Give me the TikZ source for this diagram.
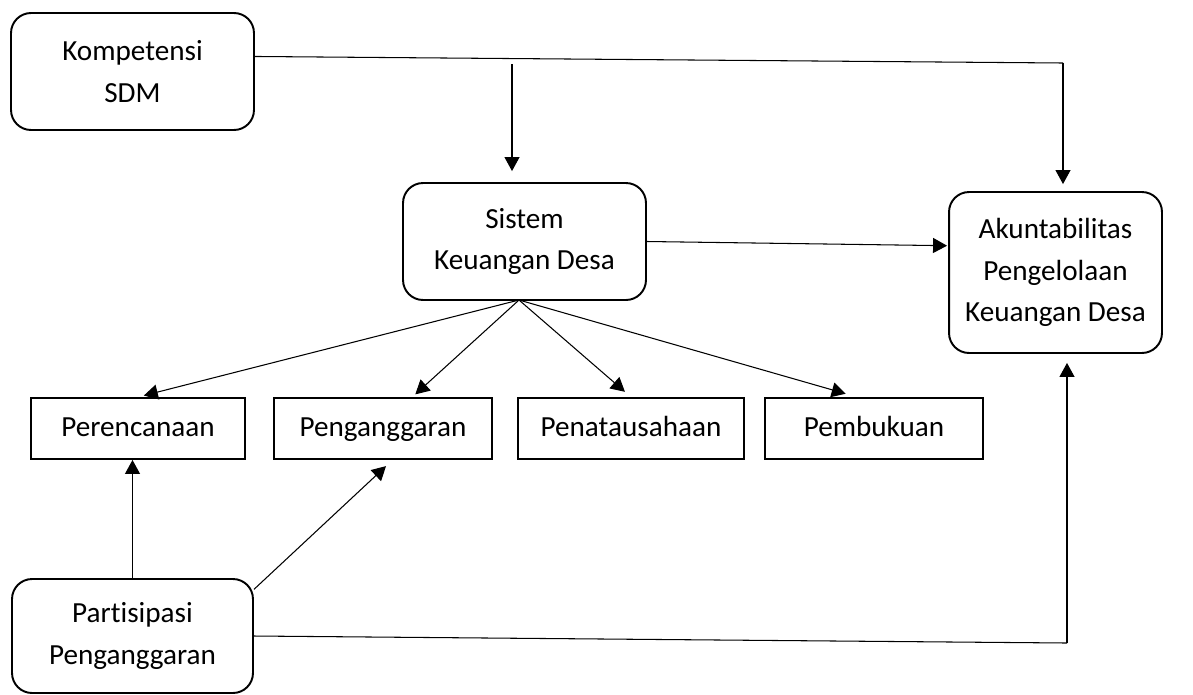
\documentclass[tikz,border=0pt]{standalone}
\usepackage{fontspec}
\setmainfont{Carlito}[Ligatures=NoCommon]
\usetikzlibrary{arrows.meta}
\begin{document}
\begin{tikzpicture}[x=0.02cm,y=-0.02cm,
	box/.style={draw,line width=1.1pt,align=center,inner sep=0pt,font=\fontsize{16.6}{23.5}\selectfont},
	rbox/.style={box,rounded corners=0.4cm},
	stage/.style={box,minimum height=1.22cm,text height=2.2ex,text depth=0.3ex},
	arr/.style={line width=0.6pt,-{Triangle[length=0.28cm,width=0.3cm]}},
	ln/.style={line width=0.6pt}]
	\useasboundingbox (0,0) rectangle (1193,694);
	% upper row
	\node[rbox,minimum width=4.86cm,minimum height=2.34cm] (Komp) at (132.5,71.5) {Kompetensi\\SDM};
	\node[rbox,minimum width=4.86cm,minimum height=2.34cm] (Sistem) at (524.5,241.5) {Sistem\\Keuangan Desa};
	\node[rbox,minimum width=4.26cm,minimum height=3.22cm] (Akun) at (1055.5,272.5) {Akuntabilitas\\Pengelolaan\\Keuangan Desa};
	% the four stages
	\node[stage,minimum width=4.28cm] (Renc) at (138,428.5) {Perencanaan};
	\node[stage,minimum width=4.36cm] (Angg) at (383,428.5) {Penganggaran};
	\node[stage,minimum width=4.52cm] (Tata) at (631,428.5) {Penatausahaan};
	\node[stage,minimum width=4.36cm] (Buku) at (874,428.5) {Pembukuan};
	% bottom
	\node[rbox,minimum width=4.82cm,minimum height=2.28cm] (Part) at (132.5,636) {Partisipasi\\Penganggaran};
	
	\coordinate (KompCorner) at (1063,63);
	\coordinate (KompDrop)   at (512,64);
	\coordinate (FanRoot)    at (519,300);
	\coordinate (PartCorner) at (1067,643);
	
	\draw[ln] (Komp.7) -- (KompCorner);
	\draw[arr,shorten >=0.14cm] (KompCorner) -- (KompCorner |- Akun.north);
	\draw[arr,shorten >=0.22cm] (KompDrop) -- (KompDrop |- Sistem.north);
	\draw[arr,shorten >=0.02cm] (Sistem.east) -- (Akun.166);
	
	\draw[arr,shorten >=0.12cm] (FanRoot) -- (Renc.north);% fan out
	\draw[arr,shorten >=0.08cm] (FanRoot) -- (Angg.47);
	\draw[arr,shorten >=0.16cm] (FanRoot) -- (Tata.north);
	\draw[arr,shorten >=0.24cm] (FanRoot) -- (Buku.118);
	
	\draw[arr] (Part.north) -- (Part.north |- Renc.south);
	\draw[arr,shorten >=0.18cm] (Part.21) -- (Angg.-73);
	\draw[ln] (Part.east) -- (PartCorner);
	\draw[arr,shorten >=0.18cm] (PartCorner) -- (PartCorner |- Akun.south);
\end{tikzpicture}
\end{document}
